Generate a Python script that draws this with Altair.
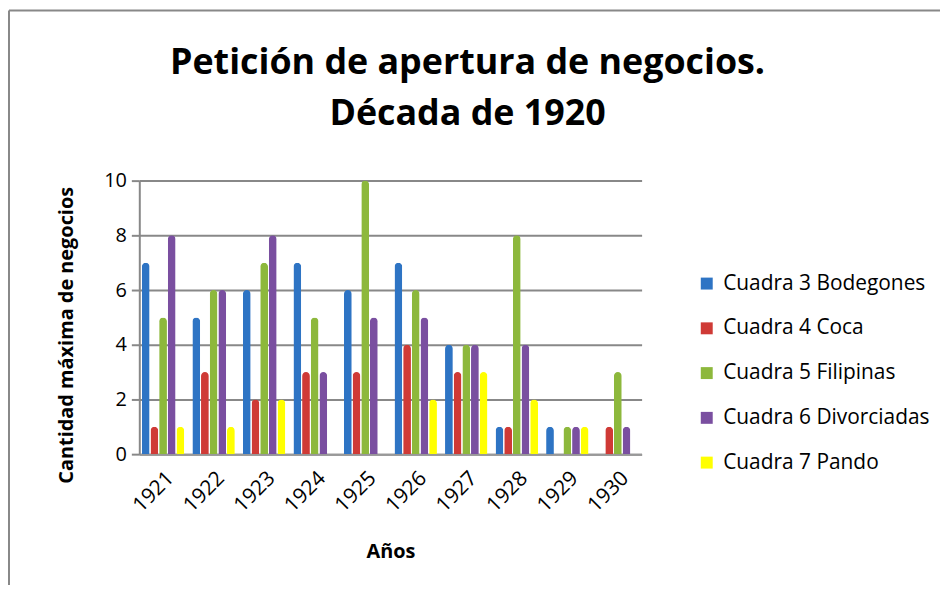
import altair as alt
import pandas as pd

years = ["1921", "1922", "1923", "1924", "1925", "1926", "1927", "1928", "1929", "1930"]
series = ["Cuadra 3 Bodegones", "Cuadra 4 Coca", "Cuadra 5 Filipinas", "Cuadra 6 Divorciadas", "Cuadra 7 Pando"]
bodegones = [7, 5, 6, 7, 6, 7, 4, 1, 1, 0]
coca = [1, 3, 2, 3, 3, 4, 3, 1, 0, 1]
filipinas = [5, 6, 7, 5, 10, 6, 4, 8, 1, 3]
divorciadas = [8, 6, 8, 3, 5, 5, 4, 4, 1, 1]
pando = [1, 1, 2, 0, 0, 2, 3, 2, 1, 0]
colors = ["#2E74C4", "#CF3A36", "#8DB83C", "#7A4FA0", "#FFFF00"]
title_lines = ["Petición de apertura de negocios.", "Década de 1920"]

rows = []
for name, vals in zip(series, [bodegones, coca, filipinas, divorciadas, pando]):
    for y, v in zip(years, vals):
        rows.append({"Año": y, "Serie": name, "Valor": v})
df = pd.DataFrame(rows)

FONT = "Open Sans"

bars = alt.Chart(df).mark_bar(cornerRadiusTopLeft=4, cornerRadiusTopRight=4).encode(
    x=alt.X("Año:N", sort=years, scale=alt.Scale(paddingInner=0.16, paddingOuter=0.05),
            axis=alt.Axis(title="Años", labelAngle=-45, labelFontSize=21, labelFont=FONT,
                          labelColor="#000", labelPadding=13, ticks=False, domain=True,
                          domainColor="#999", domainWidth=2,
                          titleFontSize=20, titleFont=FONT, titleFontWeight="bold",
                          titleColor="#000", titlePadding=26, grid=False)),
    xOffset=alt.XOffset("Serie:N", sort=series, scale=alt.Scale(paddingInner=0.1)),
    y=alt.Y("Valor:Q", scale=alt.Scale(domain=[0, 10]),
            axis=alt.Axis(title="Cantidad máxima de negocios", values=[0, 2, 4, 6, 8, 10],
                          labelFontSize=20, labelFont=FONT, labelColor="#000", labelPadding=5,
                          tickSize=8, tickColor="#888", tickWidth=2,
                          domainColor="#888", domainWidth=2,
                          grid=True, gridColor="#888", gridWidth=2,
                          titleFontSize=20, titleFont=FONT, titleFontWeight="bold",
                          titleColor="#000", titlePadding=27, titleY=155)),
    color=alt.Color("Serie:N", sort=series, scale=alt.Scale(domain=series, range=colors),
                    legend=alt.Legend(title=None, orient="none", legendX=560, legendY=93,
                                      symbolType="square", symbolSize=144,
                                      symbolStrokeWidth=0, labelFontSize=21,
                                      labelFont=FONT, labelColor="#000", labelLimit=0,
                                      rowPadding=23, labelOffset=6)),
)

titles = alt.Chart(pd.DataFrame({"t": title_lines, "i": [0, 1]})).mark_text(
    fontSize=36, font=FONT, fontWeight="bold", color="#000", align="center", baseline="middle"
).encode(
    text="t:N",
    x=alt.value(330),
    y=alt.Y("i:Q", scale=alt.Scale(domain=[0, 1], range=[-118, -67]), axis=None),
)

frame = pd.DataFrame({"a": [0]})
top_line = alt.Chart(frame).mark_rule(stroke="#888", strokeWidth=2, clip=False).encode(
    x=alt.value(-131), x2=alt.value(820), y=alt.value(-171))
left_line = alt.Chart(frame).mark_rule(stroke="#888", strokeWidth=2, clip=False).encode(
    x=alt.value(-131), y=alt.value(-171), y2=alt.value(440))

chart = alt.layer(top_line, left_line, titles, bars).resolve_scale(y="independent").properties(
    width=505, height=275,
    autosize=alt.AutoSizeParams(type="none"),
    padding={"left": 132, "top": 172, "right": 300, "bottom": 130},
).configure_view(stroke=None)

chart.save("out.html", embed_options={"renderer": "svg", "actions": False})
